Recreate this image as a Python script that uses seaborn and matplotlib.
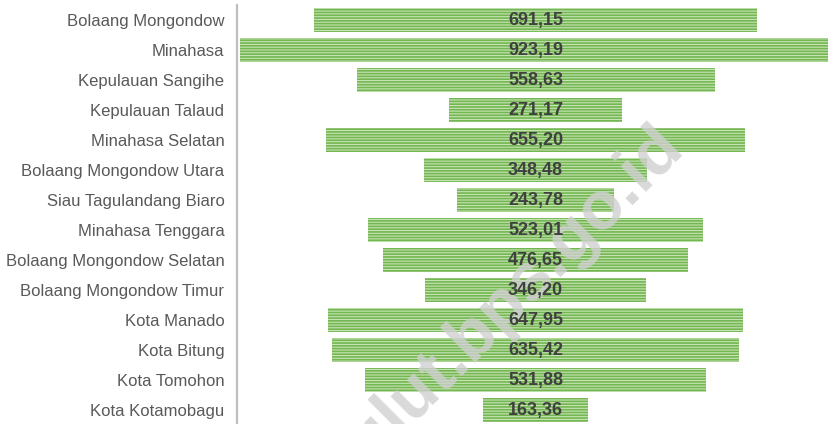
import pandas as pd
import seaborn as sns
import matplotlib.pyplot as plt

# data
regions = [
    "Bolaang Mongondow", "Minahasa", "Kepulauan Sangihe", "Kepulauan Talaud",
    "Minahasa Selatan", "Bolaang Mongondow Utara", "Siau Tagulandang Biaro",
    "Minahasa Tenggara", "Bolaang Mongondow Selatan", "Bolaang Mongondow Timur",
    "Kota Manado", "Kota Bitung", "Kota Tomohon", "Kota Kotamobagu",
]
values = [691.15, 923.19, 558.63, 271.17, 655.20, 348.48, 243.78,
          523.01, 476.65, 346.20, 647.95, 635.42, 531.88, 163.36]

df = pd.DataFrame({"region": regions, "value": values})

sns.set_style("white")
plt.rcParams['font.family'] = ['Liberation Sans', 'DejaVu Sans']
plt.rcParams['hatch.linewidth'] = 1.2

fig = plt.figure(figsize=(8.29, 4.24), dpi=100)
ax = fig.add_axes([237 / 829, -1 / 424, 592 / 829, 420 / 424])

sns.barplot(data=df, y="region", x="value", orient="h", order=regions,
            color="#c6e4b4", saturation=1, width=0.8, ax=ax)

# centre every bar around zero (funnel look) and add horizontal stripes
for patch, v in zip(ax.patches, values):
    patch.set_x(-v / 2)
    patch.set_hatch("------")
    patch.set_edgecolor("#74b752")
    patch.set_linewidth(0)
    patch.set_zorder(1)

for i, v in enumerate(values):
    ax.text(0, i, f"{v:.2f}".replace(".", ","), ha="center", va="center",
            fontsize=13, fontweight="bold", color="#404040", zorder=5)

ax.set_xlim(-466, 458)
ax.set_ylim(len(regions) - 0.5, -0.5)
ax.set_xlabel("")
ax.set_ylabel("")
ax.set_xticks([])
ax.tick_params(axis="y", length=0, pad=9, labelsize=12, labelcolor="#595959")
for s in ["top", "right", "bottom"]:
    ax.spines[s].set_visible(False)
ax.spines["left"].set_color("#bfbfbf")
ax.spines["left"].set_linewidth(1.6)

# watermark, between the bars and the value labels
ax.text(502 / 829, 1 - 308 / 424, "sulut.bps.go.id", rotation=45,
        transform=fig.transFigure, ha="center", va="center",
        rotation_mode="anchor", fontsize=49, fontweight="bold",
        color="#d0d0d0", alpha=0.8, zorder=3, clip_on=False)

fig.savefig("out.png", dpi=100)
